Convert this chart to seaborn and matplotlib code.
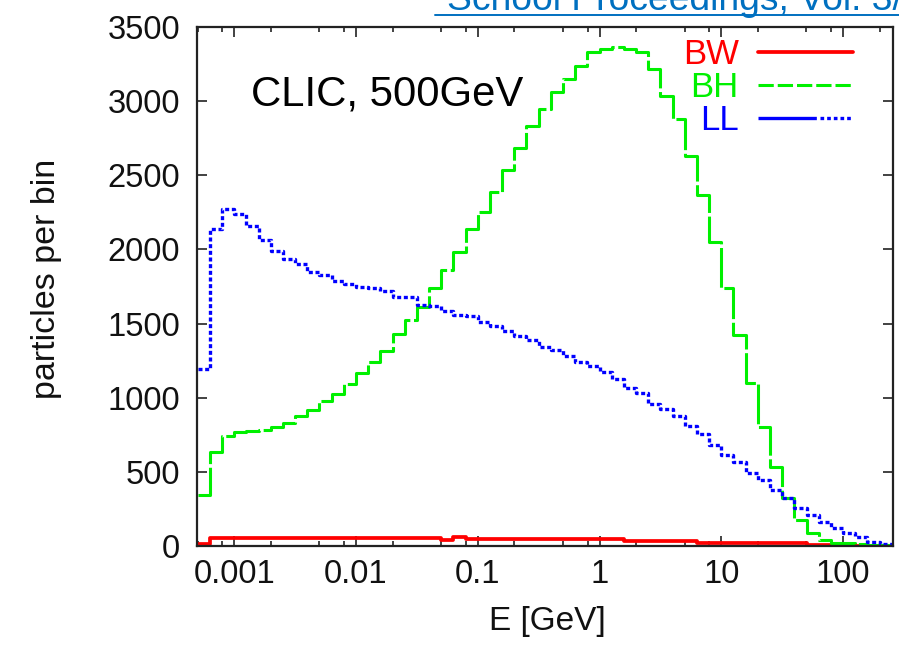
import numpy as np
import pandas as pd
import matplotlib
matplotlib.use("Agg")
import matplotlib.pyplot as plt
import seaborn as sns
from matplotlib.lines import Line2D

# Energy binning: 0.1-decade bins, lower edges from log10(E) = -3.3 up to 2.3
log_first_edge = -3.3
log_bin_width = 0.1
n_bins = 57

# Particles per bin for each pair-production process (one value per bin)
bw_counts = [15] + [52] * 19 + [42, 58] + [45] * 13 + [32] * 6 + [22] * 9 + \
            [8, 6, 5, 4, 3, 3, 2]

bh_counts = [343, 635, 740, 769, 776, 785, 803, 830, 875, 920,
             976, 1027, 1094, 1166, 1240, 1315, 1431, 1521, 1615, 1740,
             1860, 1980, 2136, 2252, 2389, 2533, 2685, 2833, 2949, 3062,
             3151, 3237, 3331, 3350, 3367, 3355, 3331, 3218, 3038, 2881,
             2629, 2365, 2050, 1737, 1420, 1099, 803, 534, 321, 175,
             85, 40, 22, 18, 13, 9, 5]

ll_counts = [1195, 2140, 2270, 2240, 2160, 2065, 1990, 1935, 1900, 1845,
             1825, 1785, 1768, 1750, 1738, 1722, 1682, 1680, 1625, 1620,
             1584, 1560, 1548, 1512, 1483, 1451, 1415, 1391, 1343, 1324,
             1283, 1242, 1211, 1175, 1127, 1067, 1031, 958, 923, 875,
             810, 755, 681, 615, 567, 489, 444, 377, 321, 254,
             209, 164, 119, 85, 63, 29, 13]

series_labels = ["BW", "BH", "LL"]
series_colors = ["#ff0000", "#00f000", "#0000ff"]

xtick_values = [0.001, 0.01, 0.1, 1, 10, 100]
xtick_labels = ["0.001", "0.01", "0.1", "1", "10", "100"]
ytick_values = [0, 500, 1000, 1500, 2000, 2500, 3000, 3500]

sns.set_style("ticks")
plt.rcParams["font.family"] = ["Liberation Sans", "DejaVu Sans"]

W, H = 899, 648
fig = plt.figure(figsize=(W / 100, H / 100), dpi=100)
fig.patch.set_facecolor("white")
ax = fig.add_axes([197 / W, 1 - 546 / H, (893 - 197) / W, (546 - 27) / H])

log_last_edge = round(log_first_edge + n_bins * log_bin_width, 3)
centers = 10 ** (log_first_edge + log_bin_width * (np.arange(n_bins) + 0.5))

line_styles = ["-", (0, (13, 1.2)), (0, (1.2, 0.8))]
line_widths = [2.7, 2.2, 2.4]
for counts, color, ls, w in zip([bw_counts, bh_counts, ll_counts],
                                series_colors, line_styles, line_widths):
    df = pd.DataFrame({"E": centers, "n": np.asarray(counts, dtype=float)})
    sns.histplot(data=df, x="E", weights="n",
                 bins=n_bins, binrange=(log_first_edge, log_last_edge),
                 log_scale=True, element="step", fill=False,
                 color=color, linewidth=w, linestyle=ls, ax=ax)

ax.set_xscale("log")
ax.set_xlim(0.000495, 257)
ax.set_ylim(0, 3500)

ax.set_xticks(xtick_values)
ax.set_xticklabels(xtick_labels)
minor = [m * 10.0 ** k for k in range(-4, 3) for m in (2, 5, 8)]
ax.set_xticks([v for v in minor if 0.000495 < v < 257], minor=True)
ax.xaxis.set_minor_formatter(matplotlib.ticker.NullFormatter())
ax.set_yticks(ytick_values)
ax.set_yticklabels([str(v) for v in ytick_values])

ax.tick_params(which="both", direction="in", top=True, right=True,
               width=1.2, color="#222222")
ax.tick_params(which="major", length=7.5)
ax.tick_params(which="minor", length=3.8)
ax.tick_params(axis="x", which="major", labelsize=23.5, pad=9.5,
               labelcolor="#111111")
ax.tick_params(axis="y", which="major", labelsize=23.5, pad=12,
               labelcolor="#111111")
for s in ax.spines.values():
    s.set_linewidth(1.6)
    s.set_color("#222222")

ax.set_xlabel("E [GeV]", fontsize=24, color="#111111")
ax.set_ylabel("particles per bin", fontsize=24.5, color="#111111")
ax.xaxis.set_label_coords(0.503, -0.115)
ax.yaxis.set_label_coords(-0.194, 0.515)

ax.text(0.0776, 0.848, "CLIC, 500GeV", transform=ax.transAxes,
        fontsize=30.2, color="black", va="baseline", ha="left")

# Key: labels on the left in the series colour, line samples on the right
handles = [
    Line2D([], [], color=series_colors[0], linewidth=2.7, linestyle="-"),
    Line2D([], [], color=series_colors[1], linewidth=2.2,
           linestyle=(0, (5, 1.3))),
    Line2D([], [], color=series_colors[2], linewidth=2.4,
           linestyle=(0, (17.5, 1.1, 1.1, 0.9, 1.1, 0.9, 1.1, 0.9, 1.1, 0.9, 1.1, 0.9))),
]
leg = ax.legend(handles, series_labels, loc="upper right",
                bbox_to_anchor=(853 / W, 1 - 38 / H),
                bbox_transform=fig.transFigure, frameon=False,
                markerfirst=False, borderpad=0, borderaxespad=0,
                handlelength=2.74, handletextpad=0.55, labelspacing=0.0,
                fontsize=25, labelcolor="linecolor")

# Running header link at the top of the page, clipped by the figure edge
fig.text(447 / W, 1 - 10 / H, "School Proceedings, Vol. 3/", fontsize=26.8,
         color="#0070c0", ha="left", va="baseline")
fig.add_artist(Line2D([435 / W, 1.0], [1 - 15 / H, 1 - 15 / H],
                      transform=fig.transFigure, color="#0070c0",
                      linewidth=1.4))

fig.savefig("out.png", dpi=100, facecolor="white")
